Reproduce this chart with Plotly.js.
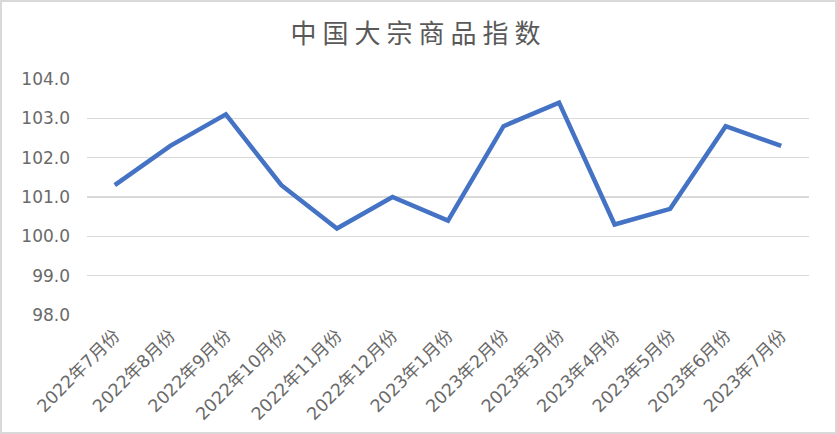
<!DOCTYPE html>
<html>
<head>
<meta charset="utf-8">
<script src="https://cdn.plot.ly/plotly-3.0.1.min.js"></script>
<style>
html,body{margin:0;padding:0;background:#fff;}
#wrap{position:relative;width:837px;height:434px;}
#chart{position:absolute;left:0;top:0;width:837px;height:434px;}
#border{position:absolute;left:0;top:0;width:833px;height:430px;border:2px solid #d9d9d9;pointer-events:none;}
.gtitle{letter-spacing:6px;}
</style>
</head>
<body>
<div id="wrap"><div id="chart"></div><div id="border"></div></div>
<script>
const categories = ["2022年7月份","2022年8月份","2022年9月份","2022年10月份","2022年11月份","2022年12月份","2023年1月份","2023年2月份","2023年3月份","2023年4月份","2023年5月份","2023年6月份","2023年7月份"];
const indexValues = [101.3, 102.3, 103.1, 101.3, 100.2, 101.0, 100.4, 102.8, 103.4, 100.3, 100.7, 102.8, 102.3];
const yTickValues = [98, 99, 100, 101, 102, 103, 104];
const yTickLabels = ["98.0","99.0","100.0","101.0","102.0","103.0","104.0"];
const chartTitle = "中国大宗商品指数";

const font = "DejaVu Sans, Noto Sans CJK SC, sans-serif";
Plotly.newPlot('chart', [{
  type: 'scatter', mode: 'lines',
  x: categories, y: indexValues,
  line: {color: '#4472C4', width: 4.5},
  hoverinfo: 'skip'
}], {
  width: 837, height: 434,
  margin: {l: 87, r: 28, t: 79, b: 119},
  paper_bgcolor: '#fff', plot_bgcolor: '#fff',
  showlegend: false,
  title: {text: chartTitle, x: 0.5, xref: 'container', xanchor: 'center', y: 0.922, yref: 'container', yanchor: 'middle',
          font: {family: "Noto Sans CJK SC, sans-serif", size: 26, color: '#595959'}},
  xaxis: {type: 'category', range: [-0.5, 12.5], showgrid: false, zeroline: false, showline: false,
          tickangle: -45, tickfont: {family: font, size: 17.5, color: '#6a6a6a'}, ticks: '', ticklabelstandoff: 6, fixedrange: true},
  yaxis: {range: [98, 104], tickvals: yTickValues, ticktext: yTickLabels, showgrid: true, gridcolor: '#d9d9d9', gridwidth: 1.5,
          zeroline: false, showline: false, ticks: '', ticklabelstandoff: 16,
          tickfont: {family: font, size: 17, color: '#6a6a6a'}, fixedrange: true}
}, {displayModeBar: false, staticPlot: true});
</script>
</body>
</html>
